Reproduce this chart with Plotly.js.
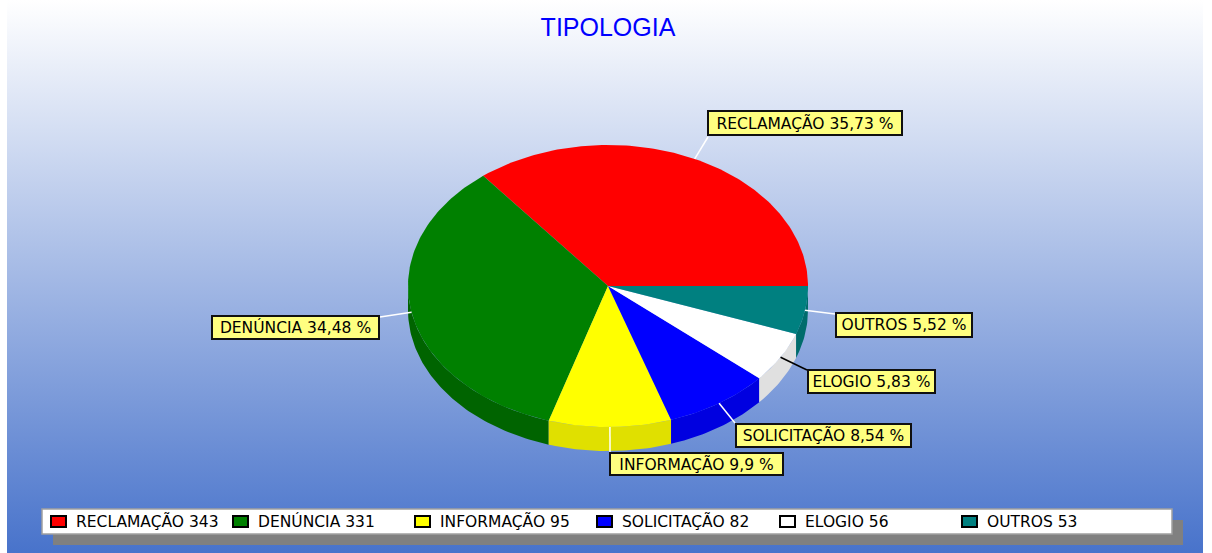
<!DOCTYPE html>
<html><head><meta charset="utf-8">
<script src="https://cdn.plot.ly/plotly-3.0.1.min.js"></script>
<style>
html,body{margin:0;padding:0;background:#fff;overflow:hidden}
#bg{position:absolute;left:7px;top:0;width:1196px;height:553px;background:linear-gradient(#ffffff 0%,#4873cb 100%)}
#chart{position:absolute;left:0;top:0;width:1212px;height:553px}
</style></head><body><div id="bg"></div><div id="chart"></div>
<script>
// Data
const categories = ['RECLAMAÇÃO','DENÚNCIA','INFORMAÇÃO','SOLICITAÇÃO','ELOGIO','OUTROS'];
const counts = [343,331,95,82,56,53];
const percentLabels = ['35,73 %','34,48 %','9,9 %','8,54 %','5,83 %','5,52 %'];
const topColors = ['#ff0000','#008000','#ffff00','#0000ff','#ffffff','#008080'];
const sideColors = ['#e00000','#006400','#e0e000','#0000e0','#e0e0e0','#006c6c'];
const leaderColors = ['#ffffff','#ffffff','#ffffff','#ffffff','#000000','#ffffff'];
// Layout constants (pixels)
const cx=608, cy=286, rx=200, ry=141, depth=24;
const labelBoxes = [[708,902,111,135],[212,379,316,339],[610,783,453,475],[736,911,424,447],[808,935,370,393],[836,972,313,337]];
const leaderEnds = [[708,137],[380,317],[610,453],[735,423],[807,370],[835,314]];
const legendTextX = [76,258,440,622,805,987];
const legendBox = [42,1172,509,534], shadowOff = [11,11];
const textFont = {family:'DejaVu Sans',size:15.5,color:'#000'};

const total = counts.reduce((a,b)=>a+b,0);
const px = a => cx+rx*Math.cos(a), py = a => cy-ry*Math.sin(a);
const traces=[], shapes=[], annotations=[];
const STEP=Math.PI/180;

function arc(a0,a1,off){ // points along ellipse from a0 to a1
  const n=Math.max(2,Math.ceil(Math.abs(a1-a0)/STEP)); const xs=[],ys=[];
  for(let i=0;i<=n;i++){const a=a0+(a1-a0)*i/n; xs.push(px(a)); ys.push(py(a)+off);}
  return [xs,ys];
}
// Slices
let acc=0; const angles=counts.map(v=>{const a0=acc/total*2*Math.PI; acc+=v; return [a0,acc/total*2*Math.PI];});
// side walls (visible lower half only)
angles.forEach(([a0,a1],i)=>{
  const s=Math.max(a0,Math.PI), e=Math.min(a1,2*Math.PI);
  if(e<=s) return;
  const [x1,y1]=arc(s,e,0), [x2,y2]=arc(e,s,depth);
  traces.push({type:'scatter',mode:'lines',x:x1.concat(x2),y:y1.concat(y2),fill:'toself',fillcolor:sideColors[i],line:{width:0,color:sideColors[i]},hoverinfo:'skip',showlegend:false});
});
// top faces
angles.forEach(([a0,a1],i)=>{
  const [x,y]=arc(a0,a1,0);
  traces.push({type:'scatter',mode:'lines',name:categories[i],x:[cx].concat(x,[cx]),y:[cy].concat(y,[cy]),fill:'toself',fillcolor:topColors[i],line:{width:0,color:topColors[i]},hoverinfo:'name',showlegend:false});
});
// leaders and labels
angles.forEach(([a0,a1],i)=>{
  const m=(a0+a1)/2, e=leaderEnds[i];
  shapes.push({type:'line',xref:'x',yref:'y',x0:px(m),y0:py(m),x1:e[0],y1:e[1],line:{color:leaderColors[i],width:1.5}});
  const b=labelBoxes[i];
  annotations.push({xref:'x',yref:'y',x:(b[0]+b[1])/2,y:(b[2]+b[3])/2,xanchor:'center',yanchor:'middle',showarrow:false,
    text:categories[i]+' '+percentLabels[i],width:b[1]-b[0]-2,height:b[3]-b[2]-2,borderpad:0,bgcolor:'#ffff80',bordercolor:'#101010',borderwidth:2,
    font:textFont});
});
// legend
shapes.push({type:'rect',xref:'x',yref:'y',x0:legendBox[0]+shadowOff[0],x1:legendBox[1]+shadowOff[0],y0:legendBox[2]+shadowOff[1],y1:legendBox[3]+shadowOff[1],fillcolor:'#808080',line:{width:0},layer:'above'});
shapes.push({type:'rect',xref:'x',yref:'y',x0:legendBox[0],x1:legendBox[1],y0:legendBox[2],y1:legendBox[3],fillcolor:'#ffffff',line:{color:'#a0a0a0',width:1.5},layer:'above'});
categories.forEach((c,i)=>{
  const t=legendTextX[i];
  shapes.push({type:'rect',xref:'x',yref:'y',x0:t-25,x1:t-10,y0:516,y1:527,fillcolor:topColors[i],line:{color:'#000',width:2},layer:'above'});
  annotations.push({xref:'x',yref:'y',x:t-2,y:(legendBox[2]+legendBox[3])/2,xanchor:'left',yanchor:'middle',showarrow:false,text:c+' '+counts[i],font:textFont});
});
const layout={width:1212,height:553,margin:{l:0,r:0,t:0,b:0},paper_bgcolor:'rgba(0,0,0,0)',plot_bgcolor:'rgba(0,0,0,0)',showlegend:false,
  title:{text:'TIPOLOGIA',font:{family:'Liberation Sans',size:25,color:'#0000ff'},x:608/1212,xanchor:'center',y:1-27/553,yanchor:'middle'},
  xaxis:{range:[0,1212],visible:false,fixedrange:true},yaxis:{range:[553,0],visible:false,fixedrange:true},shapes,annotations};
Plotly.newPlot('chart',traces,layout,{displayModeBar:false,staticPlot:true});
</script></body></html>
